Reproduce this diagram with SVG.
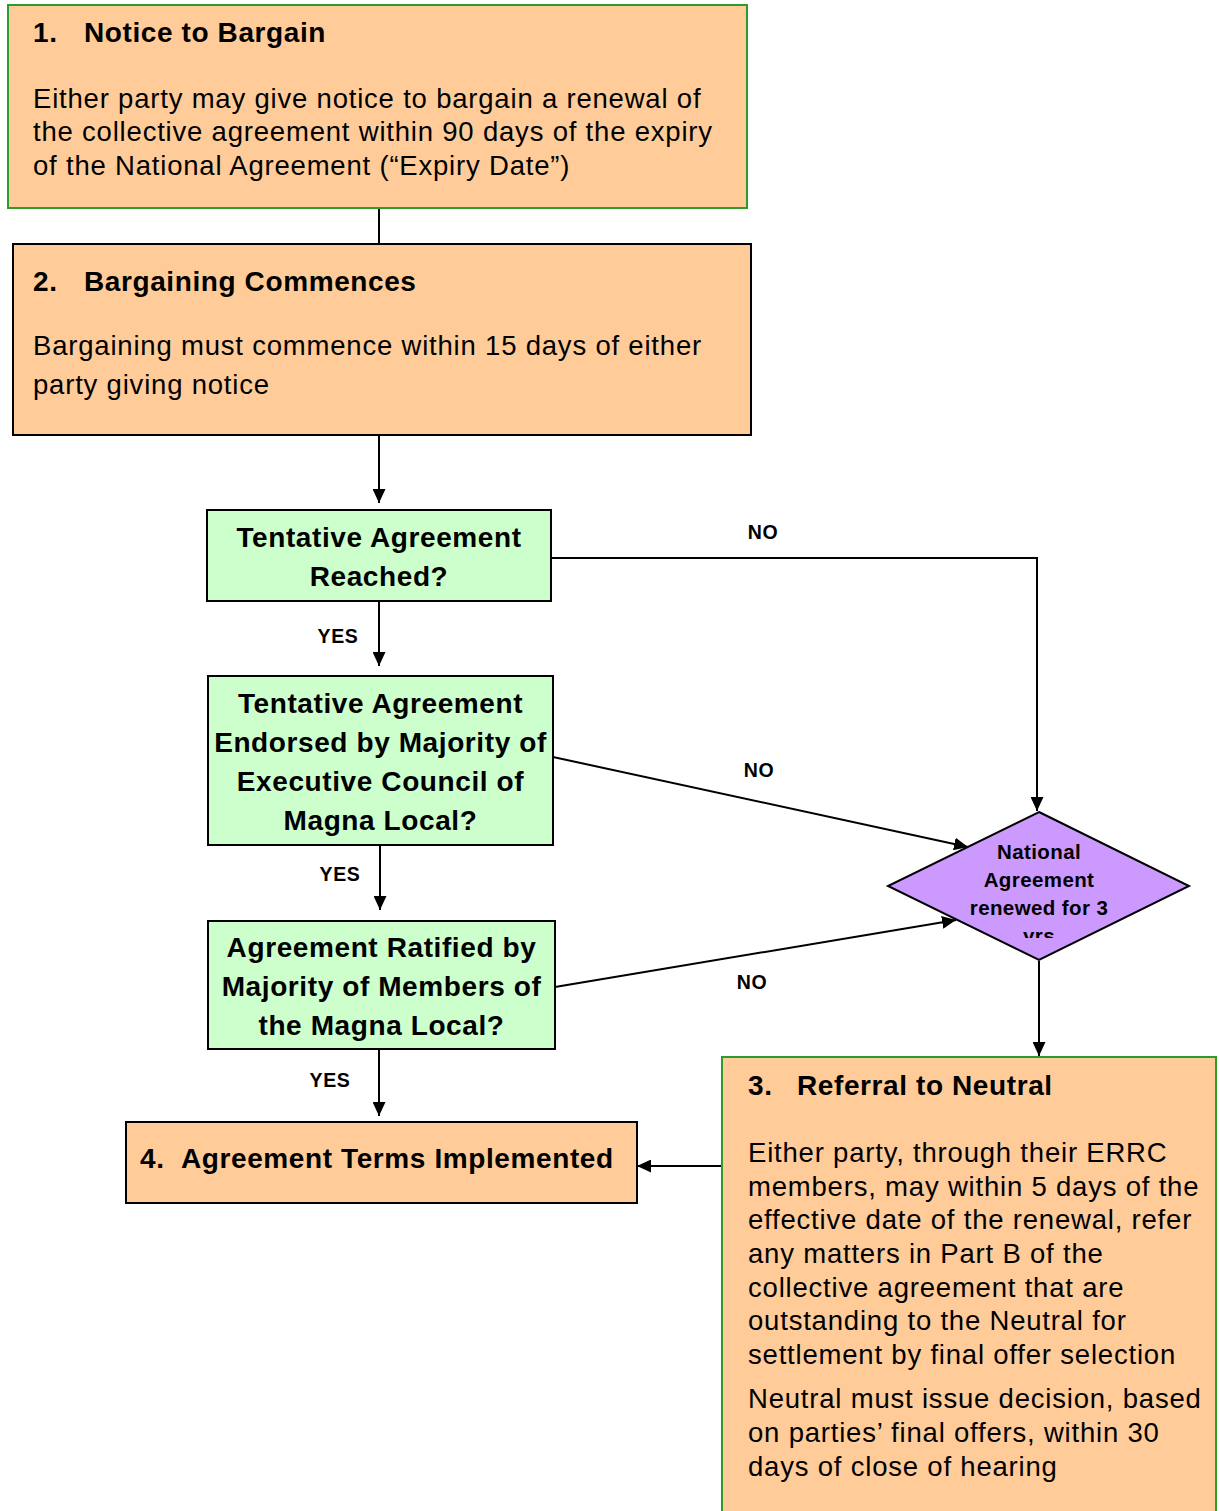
<svg xmlns="http://www.w3.org/2000/svg" width="1220" height="1511" viewBox="0 0 1220 1511">
<style>
.orange{fill:#FFCC99;stroke:#000;stroke-width:2}
.orangeg{fill:#FFCC99;stroke:#2E9B2E;stroke-width:2}
.green{fill:#CCFFCC;stroke:#000;stroke-width:2}
.purple{fill:#CC99FF;stroke:#000;stroke-width:2}
.body{font-family:"Liberation Sans",Arial,sans-serif;font-size:27.5px;letter-spacing:0.8px;fill:#000}
.title{font-family:"Liberation Sans",Arial,sans-serif;font-size:28px;font-weight:bold;letter-spacing:0.6px;fill:#000}
.q{font-family:"Liberation Sans",Arial,sans-serif;font-size:28px;font-weight:bold;letter-spacing:0.6px;fill:#000;text-anchor:middle}
.dia{font-family:"Liberation Sans",Arial,sans-serif;font-size:20.5px;font-weight:bold;letter-spacing:0.4px;fill:#000;text-anchor:middle}
.lbl{font-family:"Liberation Sans",Arial,sans-serif;font-size:19.5px;font-weight:bold;letter-spacing:0.6px;fill:#000;text-anchor:middle}
.conn{fill:none;stroke:#000;stroke-width:2}
</style>
<defs>
<marker id="arr" viewBox="0 0 14 13" refX="14" refY="6.5" markerWidth="14" markerHeight="13" markerUnits="userSpaceOnUse" orient="auto">
<path d="M0,0 L14,6.5 L0,13 Z" fill="#000"/>
</marker>
<clipPath id="diaclip"><rect x="880" y="800" width="320" height="138"/></clipPath>
</defs>

<g id="connectors">
<line class="conn" x1="379" y1="208" x2="379" y2="244"/>
<line class="conn" x1="379" y1="436" x2="379" y2="503" marker-end="url(#arr)"/>
<line class="conn" x1="379" y1="601" x2="379" y2="666" marker-end="url(#arr)"/>
<line class="conn" x1="380" y1="845" x2="380" y2="910" marker-end="url(#arr)"/>
<line class="conn" x1="379" y1="1050" x2="379" y2="1116" marker-end="url(#arr)"/>
<polyline class="conn" points="551,558 1037,558 1037,811" marker-end="url(#arr)"/>
<line class="conn" x1="553" y1="757" x2="968" y2="847" marker-end="url(#arr)"/>
<line class="conn" x1="555" y1="987" x2="956" y2="920" marker-end="url(#arr)"/>
<line class="conn" x1="1039" y1="961" x2="1039" y2="1056" marker-end="url(#arr)"/>
<line class="conn" x1="722" y1="1166" x2="637" y2="1166" marker-end="url(#arr)"/>
<text class="lbl" x="763" y="539">NO</text>
<text class="lbl" x="759" y="777">NO</text>
<text class="lbl" x="752" y="989">NO</text>
<text class="lbl" x="338" y="643">YES</text>
<text class="lbl" x="340" y="881">YES</text>
<text class="lbl" x="330" y="1087">YES</text>
</g>

<g id="node1">
<rect class="orangeg" x="8" y="5" width="739" height="203"/>
<text class="title" x="33" y="42">1.</text>
<text class="title" x="84" y="42">Notice to Bargain</text>
<text class="body" x="33" y="108">Either party may give notice to bargain a renewal of</text>
<text class="body" x="33" y="141">the collective agreement within 90 days of the expiry</text>
<text class="body" x="33" y="175">of the National Agreement (“Expiry Date”)</text>
</g>

<g id="node2">
<rect class="orange" x="13" y="244" width="738" height="191"/>
<text class="title" x="33" y="291">2.</text>
<text class="title" x="84" y="291">Bargaining Commences</text>
<text class="body" x="33" y="355">Bargaining must commence within 15 days of either</text>
<text class="body" x="33" y="394">party giving notice</text>
</g>

<g id="q1">
<rect class="green" x="207" y="510" width="344" height="91"/>
<text class="q" x="379" y="547">Tentative Agreement</text>
<text class="q" x="379" y="586">Reached?</text>
</g>

<g id="q2">
<rect class="green" x="208" y="676" width="345" height="169"/>
<text class="q" x="380.5" y="713">Tentative Agreement</text>
<text class="q" x="380.5" y="752">Endorsed by Majority of</text>
<text class="q" x="380.5" y="791">Executive Council of</text>
<text class="q" x="380.5" y="830">Magna Local?</text>
</g>

<g id="q3">
<rect class="green" x="208" y="921" width="347" height="128"/>
<text class="q" x="381.5" y="957">Agreement Ratified by</text>
<text class="q" x="381.5" y="996">Majority of Members of</text>
<text class="q" x="381.5" y="1035">the Magna Local?</text>
</g>

<g id="diamond">
<polygon class="purple" points="1039,812 1189,886 1039,960 888,886"/>
<g clip-path="url(#diaclip)">
<text class="dia" x="1039" y="859">National</text>
<text class="dia" x="1039" y="887">Agreement</text>
<text class="dia" x="1039" y="915">renewed for 3</text>
<text class="dia" x="1039" y="943">yrs</text>
</g>
</g>

<g id="node4">
<rect class="orange" x="126" y="1122" width="511" height="81"/>
<text class="title" x="140" y="1168">4.</text>
<text class="title" x="181" y="1168">Agreement Terms Implemented</text>
</g>

<g id="node3">
<rect class="orangeg" x="722" y="1057" width="494" height="470"/>
<text class="title" x="748" y="1095">3.</text>
<text class="title" x="797" y="1095">Referral to Neutral</text>
<text class="body" x="748" y="1162">Either party, through their ERRC</text>
<text class="body" x="748" y="1196">members, may within 5 days of the</text>
<text class="body" x="748" y="1229">effective date of the renewal, refer</text>
<text class="body" x="748" y="1263">any matters in Part B of the</text>
<text class="body" x="748" y="1297">collective agreement that are</text>
<text class="body" x="748" y="1330">outstanding to the Neutral for</text>
<text class="body" x="748" y="1364">settlement by final offer selection</text>
<text class="body" x="748" y="1408">Neutral must issue decision, based</text>
<text class="body" x="748" y="1442">on parties’ final offers, within 30</text>
<text class="body" x="748" y="1476">days of close of hearing</text>
</g>
</svg>
